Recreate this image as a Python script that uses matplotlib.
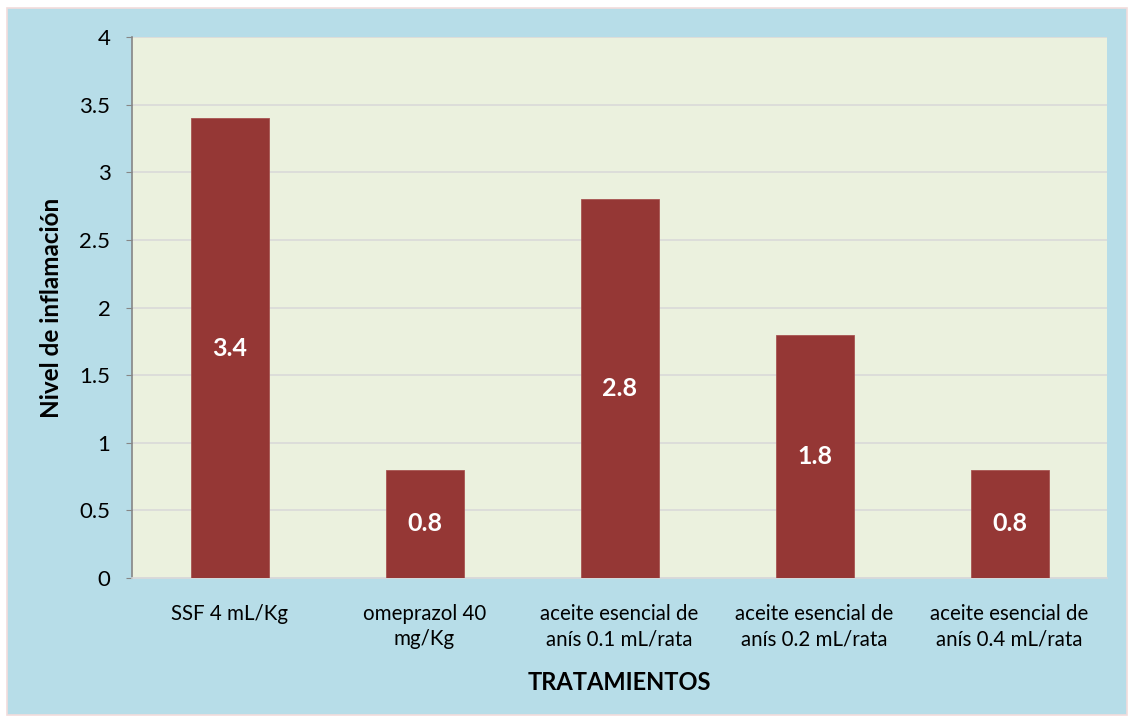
import matplotlib
matplotlib.use("Agg")
import matplotlib.pyplot as plt
from matplotlib.patches import Rectangle

## Data
categories = [
    "SSF 4 mL/Kg",
    "omeprazol 40\nmg/Kg",
    "aceite esencial de\nanís 0.1 mL/rata",
    "aceite esencial de\nanís 0.2 mL/rata",
    "aceite esencial de\nanís 0.4 mL/rata",
]
values = [3.4, 0.8, 2.8, 1.8, 0.8]
y_ticks = [0, 0.5, 1, 1.5, 2, 2.5, 3, 3.5, 4]
y_tick_labels = ["0", "0.5", "1", "1.5", "2", "2.5", "3", "3.5", "4"]

plt.rcParams["font.family"] = ["Lato", "DejaVu Sans"]

W, H = 1134, 722
fig = plt.figure(figsize=(W / 100, H / 100), dpi=100, facecolor="white")

# outer chart area (light blue with thin border)
fig.patches.append(Rectangle((7 / W, 1 - 715 / H), (1127 - 7) / W, (715 - 8) / H,
                             transform=fig.transFigure, facecolor="#B7DDE8",
                             edgecolor="#F2DCDB", linewidth=1.2, zorder=-10))

ax = fig.add_axes([132 / W, 1 - 578 / H, (1107 - 132) / W, (578 - 37) / H])
ax.set_facecolor("#EBF1DE")

x = range(len(categories))
bars = ax.bar(x, values, width=0.4, color="#953735", edgecolor="#A85452",
              linewidth=0.6, zorder=3)

for b, v in zip(bars, values):
    ax.text(b.get_x() + b.get_width() / 2, v / 2, f"{v}", ha="center", va="center",
            color="white", fontsize=18, fontweight="bold", zorder=4)

ax.set_xlim(-0.5, len(categories) - 0.5)
ax.set_ylim(0, 4)
ax.set_yticks(y_ticks)
ax.set_yticklabels(y_tick_labels, fontsize=16)
ax.set_xticks(list(x))
ax.set_xticklabels(categories, fontsize=14.8, linespacing=1.3)
ax.tick_params(axis="x", length=0, pad=19)
ax.tick_params(axis="y", length=4.5, color="#868686", pad=11)

ax.yaxis.grid(True, color="#D9D9D9", linewidth=1.2, zorder=0)
ax.set_axisbelow(True)

for s in ["top", "right"]:
    ax.spines[s].set_visible(False)
ax.spines["left"].set_color("#868686")
ax.spines["left"].set_linewidth(1.2)
ax.spines["bottom"].set_color("#D9D9D9")
ax.spines["bottom"].set_linewidth(1.2)

ax.set_ylabel("Nivel de inflamación", fontsize=17.5, fontweight="bold", labelpad=12)
ax.set_xlabel("TRATAMIENTOS", fontsize=17, fontweight="bold", labelpad=16)

fig.savefig("out.png", dpi=100, facecolor="white")
